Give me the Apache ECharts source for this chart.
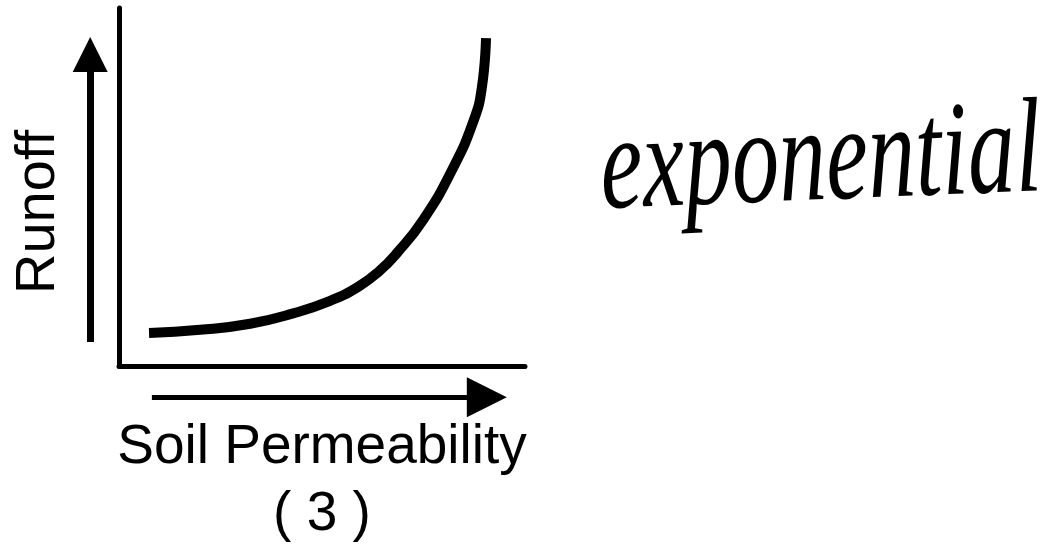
<!DOCTYPE html>
<html>
<head>
<meta charset="utf-8">
<script src="https://cdn.jsdelivr.net/npm/echarts@6/dist/echarts.min.js"></script>
<style>
  html, body { margin: 0; padding: 0; background: #fff; }
  #chart { width: 1056px; height: 553px; }
</style>
</head>
<body>
<div id="chart"></div>
<script>
// Runoff curve: soil permeability (x, 0-100) against runoff (y, 0-100)
const permeability = [7.4, 20.0, 32.3, 42.9, 52.0, 58.9, 64.0, 68.5, 74.9, 82.0, 87.4, 89.4, 90.4];
const runoff       = [9.2, 10.1, 11.8, 14.7, 18.2, 22.1, 26.4, 31.6, 40.8, 54.7, 68.7, 78.0, 91.6];

// Labels
const xAxisTitle = 'Soil Permeability';
const questionNumber = '( 3 )';
const yAxisTitle = 'Runoff';
const note = 'exponential';

// Direction arrows drawn beside the axes, in axis units (start, end)
const runoffArrow = [[-7.1, 6.7], [-7.1, 87.0]];
const permeabilityArrow = [[8.1, -8.7], [90.6, -8.7]];

const curve = permeability.map((x, i) => [x, runoff[i]]);

const chart = echarts.init(document.getElementById('chart'), null, { renderer: 'canvas' });

const axisBase = {
  type: 'value',
  min: 0,
  max: 100,
  axisTick: { show: false },
  axisLabel: { show: false },
  splitLine: { show: false },
  axisLine: { show: true, lineStyle: { color: '#000', width: 5 } }
};

chart.setOption({
  backgroundColor: '#fff',
  animation: false,
  grid: { left: 119, right: 531, top: 8, bottom: 187, containLabel: false },
  xAxis: Object.assign({}, axisBase, {
    name: xAxisTitle + '\n' + questionNumber,
    nameLocation: 'middle',
    nameGap: 48,
    nameTextStyle: {
      color: '#000',
      fontFamily: 'Liberation Sans',
      fontSize: 55,
      lineHeight: 67
    }
  }),
  yAxis: Object.assign({}, axisBase, {
    name: yAxisTitle,
    nameLocation: 'middle',
    nameRotate: 90,
    nameGap: 52,
    nameTextStyle: {
      color: '#000',
      fontFamily: 'Liberation Sans',
      fontSize: 56,
      padding: [0, 50, 0, 0]
    }
  }),
  series: [
    {
      type: 'line',
      data: curve,
      smooth: 0.5,
      showSymbol: false,
      symbol: 'none',
      clip: false,
      lineStyle: { color: '#000', width: 10, cap: 'butt' }
    },
    {
      type: 'lines',
      coordinateSystem: 'cartesian2d',
      clip: false,
      symbol: ['none', 'triangle'],
      symbolSize: [22, 35],
      lineStyle: { color: '#000', width: 7, opacity: 1, curveness: 0 },
      data: [{ coords: runoffArrow }]
    },
    {
      type: 'lines',
      coordinateSystem: 'cartesian2d',
      clip: false,
      symbol: ['none', 'triangle'],
      symbolSize: [25, 40],
      lineStyle: { color: '#000', width: 5, opacity: 1, curveness: 0 },
      data: [{ coords: permeabilityArrow }]
    }
  ],
  graphic: [
    {
      // handwritten margin note, drawn with thin pen-like strokes
      type: 'text',
      x: 598,
      y: 105,
      rotation: 0.04,
      scaleX: 0.70,
      style: {
        text: note,
        font: 'italic 135px "Liberation Serif"',
        fill: '#000',
        stroke: '#fff',
        lineWidth: 3
      }
    }
  ]
});
</script>
</body>
</html>
